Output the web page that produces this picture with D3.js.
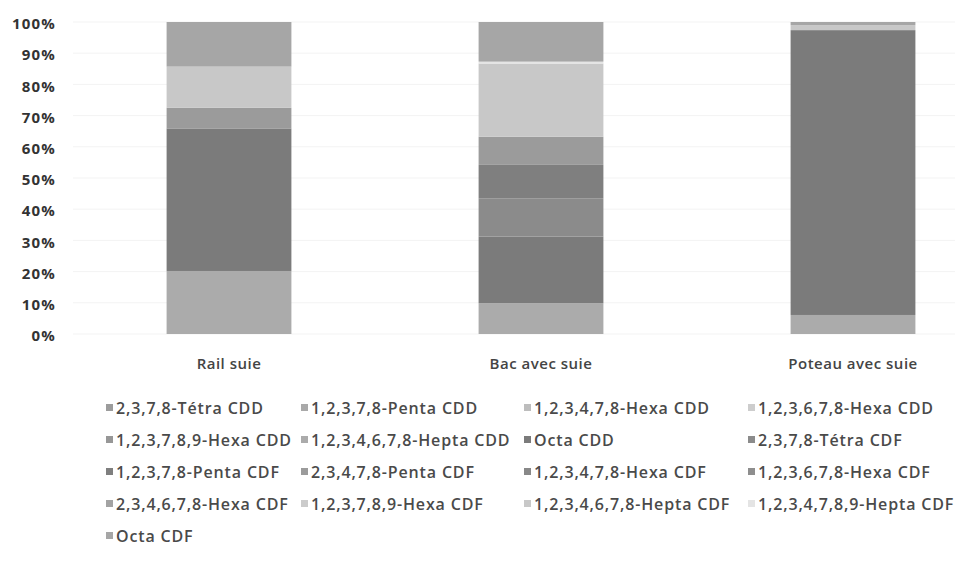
<!DOCTYPE html>
<html>
<head>
<meta charset="utf-8">
<script src="https://cdn.jsdelivr.net/npm/d3@7"></script>
<style>
  html, body { margin: 0; padding: 0; background: #fff; }
  svg { display: block; font-family: "Open Sans", sans-serif; }
</style>
</head>
<body>
<svg id="chart" width="955" height="567"></svg>
<script>
// Sample categories
const categories = ["Rail suie", "Bac avec suie", "Poteau avec suie"];

// Congener names (stack order, bottom to top)
const congeners = [
  "2,3,7,8-Tétra CDD",
  "1,2,3,7,8-Penta CDD",
  "1,2,3,4,7,8-Hexa CDD",
  "1,2,3,6,7,8-Hexa CDD",
  "1,2,3,7,8,9-Hexa CDD",
  "1,2,3,4,6,7,8-Hepta CDD",
  "Octa CDD",
  "2,3,7,8-Tétra CDF",
  "1,2,3,7,8-Penta CDF",
  "2,3,4,7,8-Penta CDF",
  "1,2,3,4,7,8-Hexa CDF",
  "1,2,3,6,7,8-Hexa CDF",
  "2,3,4,6,7,8-Hexa CDF",
  "1,2,3,7,8,9-Hexa CDF",
  "1,2,3,4,6,7,8-Hepta CDF",
  "1,2,3,4,7,8,9-Hepta CDF",
  "Octa CDF"
];

// Share (%) of each congener per sample: [Rail suie, Bac avec suie, Poteau avec suie]
const tetraCDD     = [0, 0, 0];
const pentaCDD     = [0, 0, 0];
const hexaCDD478   = [0, 0, 0];
const hexaCDD678   = [0, 0, 0];
const hexaCDD789   = [0, 0, 0];
const heptaCDD     = [20.2, 9.9, 6.1];
const octaCDD      = [45.7, 21.3, 91.3];
const tetraCDF     = [0, 12.3, 0];
const pentaCDF12378 = [0, 10.7, 0];
const pentaCDF23478 = [6.6, 9.0, 0];
const hexaCDF123478 = [0, 0, 0];
const hexaCDF123678 = [0, 0, 0];
const hexaCDF234678 = [0, 0, 0];
const hexaCDF123789 = [0, 0, 0];
const heptaCDF1234678 = [13.2, 23.5, 1.6];
const heptaCDF1234789 = [0, 0.6, 0];
const octaCDF      = [14.3, 12.7, 1.0];

const seriesValues = [
  tetraCDD, pentaCDD, hexaCDD478, hexaCDD678, hexaCDD789, heptaCDD, octaCDD,
  tetraCDF, pentaCDF12378, pentaCDF23478, hexaCDF123478, hexaCDF123678,
  hexaCDF234678, hexaCDF123789, heptaCDF1234678, heptaCDF1234789, octaCDF
];

// Y axis tick values
const yTicks = [0, 0.1, 0.2, 0.3, 0.4, 0.5, 0.6, 0.7, 0.8, 0.9, 1.0];

// Grey fills, one per congener
const fills = [
  "#9c9c9c", "#a9a9a9", "#bdbdbd", "#cdcdcd", "#979797", "#ababab", "#7b7b7b",
  "#8b8b8b", "#7f7f7f", "#9b9b9b", "#888888", "#8e8e8e", "#a3a3a3", "#cbcbcb",
  "#c8c8c8", "#e4e4e4", "#a6a6a6"
];

// Table rows for d3.stack
const rows = categories.map((c, i) => {
  const r = { category: c };
  congeners.forEach((k, j) => { r[k] = seriesValues[j][i] / 100; });
  return r;
});

const svg = d3.select("#chart");

const x = d3.scaleBand()
  .domain(categories)
  .range([73, 1009])
  .paddingInner(0.6)
  .paddingOuter(0.3);

const y = d3.scaleLinear().domain([0, 1]).range([334, 22]);

const color = d3.scaleOrdinal().domain(congeners).range(fills);

// Faint horizontal gridlines
svg.append("g")
  .selectAll("line")
  .data(yTicks)
  .join("line")
  .attr("x1", 73).attr("x2", 955)
  .attr("y1", d => y(d)).attr("y2", d => y(d))
  .attr("stroke", "#f3f3f3")
  .attr("stroke-width", 1);

// Y axis labels
const yAxis = d3.axisLeft(y)
  .tickValues(yTicks)
  .tickFormat(d3.format(".0%"))
  .tickSize(0)
  .tickPadding(0);

svg.append("g")
  .attr("transform", "translate(56,0)")
  .call(yAxis)
  .call(g => g.select(".domain").remove())
  .call(g => g.selectAll("text")
    .attr("dy", "0.45em")
    .attr("fill", "#333")
    .attr("font-size", 15)
    .attr("font-weight", 700)
    .attr("letter-spacing", "1.2px")
    .attr("font-family", "'Open Sans', sans-serif"));

// Stacked bars
const stacked = d3.stack().keys(congeners)(rows);

svg.append("g")
  .selectAll("g")
  .data(stacked)
  .join("g")
  .attr("fill", d => color(d.key))
  .selectAll("rect")
  .data(d => d)
  .join("rect")
  .attr("x", d => x(d.data.category))
  .attr("width", x.bandwidth())
  .attr("y", d => y(d[1]))
  .attr("height", d => Math.max(0, y(d[0]) - y(d[1])));

// Category labels
const xAxis = d3.axisBottom(x).tickSize(0).tickPadding(0);
svg.append("g")
  .attr("transform", "translate(0,364)")
  .call(xAxis)
  .call(g => g.select(".domain").remove())
  .call(g => g.selectAll("text")
    .attr("dy", "0.35em")
    .attr("fill", "#444")
    .attr("font-size", 15)
    .attr("font-weight", 600)
    .attr("letter-spacing", "0.5px")
    .attr("font-family", "'Open Sans', sans-serif"));

// Legend: four columns
const colX = [106, 301, 524, 748];
const rowY = [408, 440, 472, 504, 536];
const legend = svg.append("g")
  .selectAll("g")
  .data(congeners)
  .join("g")
  .attr("transform", (d, i) => `translate(${colX[i % 4]},${rowY[Math.floor(i / 4)]})`);

legend.append("rect")
  .attr("x", 0).attr("y", -4)
  .attr("width", 7).attr("height", 7)
  .attr("fill", d => color(d));

legend.append("text")
  .attr("x", 10)
  .attr("dy", "0.35em")
  .attr("fill", "#4a4a4a")
  .attr("font-size", 16)
  .attr("font-weight", 600)
  .attr("letter-spacing", "0.85px")
  .attr("font-family", "'Open Sans', sans-serif")
  .text(d => d);
</script>
</body>
</html>
